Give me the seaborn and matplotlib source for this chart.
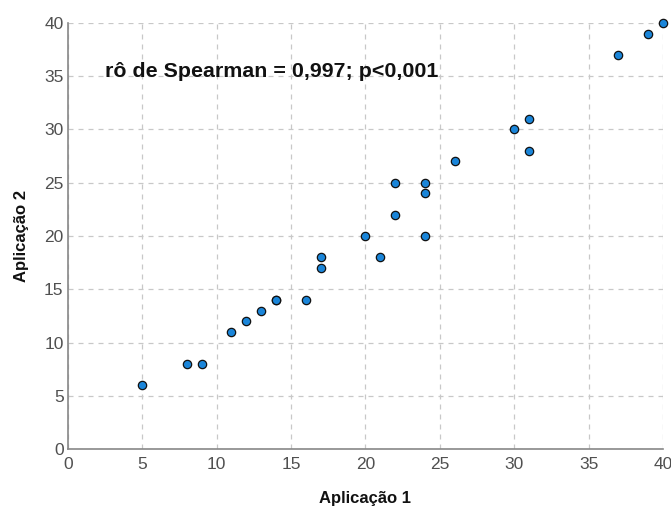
import matplotlib
matplotlib.use("Agg")
import matplotlib.pyplot as plt
import seaborn as sns
import pandas as pd

aplicacao1 = [5, 8, 9, 11, 12, 13, 14, 14, 16, 17, 17, 20, 21, 22, 22, 24, 24, 24, 26, 30, 31, 31, 37, 39, 40]
aplicacao2 = [6, 8, 8, 11, 12, 13, 14, 14, 14, 17, 18, 20, 18, 22, 25, 20, 24, 25, 27, 30, 31, 28, 37, 39, 40]
ticks = [0, 5, 10, 15, 20, 25, 30, 35, 40]
annotation = "rô de Spearman = 0,997; p<0,001"

sns.set_theme(style="white")
plt.rcParams['font.family'] = ['Liberation Sans', 'DejaVu Sans']

df = pd.DataFrame({"Aplicação 1": aplicacao1, "Aplicação 2": aplicacao2})

fig = plt.figure(figsize=(6.71, 5.08), dpi=100)
ax = fig.add_axes([0.101, 0.116, 0.887, 0.839])
sns.scatterplot(data=df, x="Aplicação 1", y="Aplicação 2", ax=ax,
                color="#1a85d9", edgecolor="#111111", linewidth=0.9, s=36,
                zorder=3, clip_on=False)

ax.set_xlim(0, 40)
ax.set_ylim(0, 40)
ax.set_xticks(ticks)
ax.set_yticks(ticks)
ax.tick_params(axis='both', length=0, labelsize=12.5, colors="#505050")
ax.tick_params(axis='x', pad=5.5)
ax.tick_params(axis='y', pad=3)
ax.grid(True, linestyle=(0, (4, 4)), color="#c8c8c8", linewidth=0.9)
for s in ["top", "right"]:
    ax.spines[s].set_visible(False)
for s in ["left", "bottom"]:
    ax.spines[s].set_color("#888888")
    ax.spines[s].set_linewidth(1.2)

ax.set_xlabel("Aplicação 1", fontsize=12, fontweight="bold", labelpad=14, color="#111111")
ax.set_ylabel("Aplicação 2", fontsize=12, fontweight="bold", labelpad=11, color="#111111")
ax.text(2.5, 35.4, annotation, fontsize=15.4, fontweight="bold", va="center", ha="left", color="#111111")

fig.savefig("out.png", dpi=100)
